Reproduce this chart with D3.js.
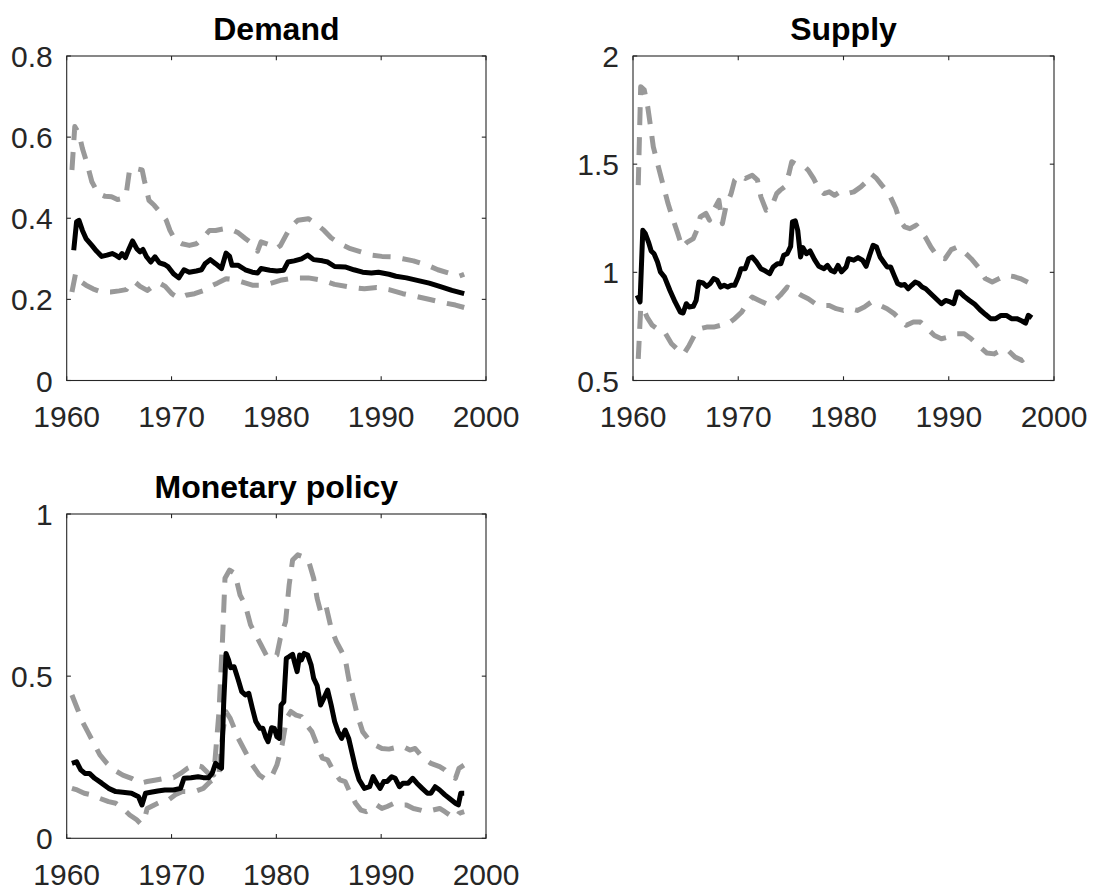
<!DOCTYPE html>
<html>
<head>
<meta charset="utf-8">
<script src="https://cdn.jsdelivr.net/npm/d3@7/dist/d3.min.js"></script>
<style>
  html, body { margin: 0; padding: 0; background: #fff; }
  svg { display: block; }
  text { font-family: "Liberation Sans", Arial, Helvetica, sans-serif; }
</style>
</head>
<body>
<svg id="chart" width="1098" height="891"></svg>
<script>
// ---------------- DATA ----------------
const panelTitles = ["Demand", "Supply", "Monetary policy"];
const xTicks = [1960, 1970, 1980, 1990, 2000];
const demandYTicks = [0, 0.2, 0.4, 0.6, 0.8];
const supplyYTicks = [0.5, 1, 1.5, 2];
const monetaryYTicks = [0, 0.5, 1];

// [year, value]
const demandMedian = [[1960.67,0.321],[1960.94,0.391],[1961.17,0.395],[1961.5,0.370],[1961.84,0.350],[1962.4,0.333],[1962.84,0.319],[1963.34,0.306],[1963.84,0.309],[1964.34,0.313],[1964.68,0.309],[1965.0,0.303],[1965.28,0.313],[1965.6,0.303],[1965.95,0.325],[1966.28,0.344],[1966.68,0.325],[1967.0,0.317],[1967.28,0.323],[1967.62,0.305],[1968.02,0.292],[1968.42,0.305],[1968.85,0.290],[1969.35,0.286],[1969.69,0.280],[1970.19,0.263],[1970.69,0.253],[1971.19,0.273],[1971.69,0.267],[1972.36,0.270],[1972.86,0.273],[1973.2,0.288],[1973.7,0.298],[1974.2,0.288],[1974.77,0.276],[1975.2,0.314],[1975.54,0.306],[1975.77,0.284],[1976.37,0.284],[1977.04,0.273],[1977.71,0.267],[1978.21,0.265],[1978.54,0.276],[1979.38,0.272],[1980.05,0.270],[1980.7,0.272],[1981.1,0.292],[1981.7,0.295],[1982.4,0.300],[1983.0,0.309],[1983.55,0.298],[1984.4,0.295],[1984.9,0.292],[1985.56,0.281],[1986.56,0.280],[1987.4,0.273],[1988.23,0.267],[1989.07,0.265],[1989.74,0.267],[1990.74,0.262],[1991.41,0.257],[1992.41,0.253],[1993.75,0.245],[1994.58,0.240],[1995.58,0.232],[1996.75,0.222],[1997.92,0.214]];
const demandUpper = [[1960.5,0.519],[1960.77,0.626],[1961.17,0.609],[1961.5,0.572],[1961.94,0.535],[1962.4,0.490],[1963.0,0.461],[1963.67,0.454],[1964.28,0.453],[1964.84,0.446],[1965.35,0.449],[1965.68,0.460],[1966.0,0.520],[1966.5,0.523],[1967.2,0.519],[1967.4,0.494],[1967.85,0.444],[1968.35,0.432],[1969.0,0.412],[1969.5,0.395],[1969.85,0.370],[1970.35,0.346],[1971.0,0.337],[1971.7,0.333],[1972.36,0.337],[1973.0,0.352],[1973.63,0.370],[1974.2,0.370],[1975.03,0.374],[1975.7,0.372],[1976.37,0.364],[1977.04,0.350],[1977.71,0.337],[1978.21,0.319],[1978.54,0.342],[1979.3,0.335],[1980.0,0.325],[1980.4,0.333],[1981.0,0.362],[1981.38,0.379],[1982.05,0.395],[1983.05,0.399],[1983.7,0.388],[1984.55,0.370],[1985.22,0.352],[1986.06,0.337],[1987.06,0.325],[1988.07,0.317],[1989.07,0.309],[1990.07,0.306],[1991.07,0.305],[1992.07,0.300],[1993.08,0.295],[1994.41,0.284],[1995.41,0.273],[1996.42,0.265],[1997.42,0.257],[1997.92,0.262]];
const demandLower = [[1960.5,0.218],[1960.84,0.263],[1961.17,0.247],[1961.84,0.235],[1962.5,0.226],[1963.34,0.218],[1964.18,0.218],[1965.0,0.221],[1965.68,0.224],[1966.08,0.240],[1966.5,0.243],[1967.0,0.232],[1967.68,0.222],[1968.35,0.235],[1968.85,0.240],[1969.4,0.232],[1970.02,0.214],[1970.69,0.203],[1971.36,0.210],[1972.2,0.214],[1973.0,0.221],[1973.7,0.232],[1974.37,0.240],[1975.2,0.251],[1975.87,0.249],[1976.7,0.243],[1977.71,0.235],[1978.38,0.235],[1979.38,0.239],[1980.38,0.247],[1981.72,0.253],[1983.05,0.253],[1984.4,0.247],[1985.56,0.237],[1987.06,0.230],[1988.4,0.226],[1989.57,0.229],[1990.74,0.224],[1992.07,0.214],[1993.41,0.207],[1994.75,0.199],[1996.08,0.191],[1997.09,0.186],[1997.92,0.180]];

const supplyMedian = [[1960.4,0.894],[1960.67,0.863],[1960.93,1.194],[1961.17,1.179],[1961.5,1.136],[1961.73,1.099],[1962.0,1.086],[1962.33,1.048],[1962.6,1.002],[1963.0,0.978],[1963.5,0.917],[1964.0,0.863],[1964.5,0.816],[1964.76,0.812],[1965.06,0.855],[1965.33,0.840],[1965.73,0.843],[1966.0,0.870],[1966.26,0.955],[1966.66,0.951],[1967.0,0.935],[1967.33,0.948],[1967.66,0.971],[1968.0,0.963],[1968.33,0.932],[1968.66,0.940],[1969.0,0.932],[1969.33,0.940],[1969.66,0.940],[1970.0,0.978],[1970.26,1.017],[1970.66,1.017],[1971.0,1.063],[1971.33,1.071],[1971.72,1.048],[1972.15,1.017],[1972.59,1.006],[1972.99,0.994],[1973.32,1.025],[1973.72,1.040],[1974.05,1.040],[1974.32,1.079],[1974.65,1.086],[1974.98,1.120],[1975.15,1.233],[1975.42,1.238],[1975.65,1.194],[1975.92,1.071],[1976.15,1.114],[1976.48,1.086],[1976.82,1.099],[1977.25,1.059],[1977.65,1.028],[1978.15,1.017],[1978.48,1.032],[1978.81,1.009],[1979.15,1.002],[1979.48,1.032],[1979.81,1.002],[1980.25,1.025],[1980.48,1.063],[1980.98,1.056],[1981.38,1.068],[1981.81,1.056],[1982.15,1.028],[1982.48,1.079],[1982.81,1.125],[1983.14,1.117],[1983.48,1.071],[1983.81,1.048],[1984.14,1.025],[1984.48,1.025],[1984.81,0.986],[1985.14,0.948],[1985.47,0.940],[1985.81,0.944],[1986.14,0.924],[1986.47,0.940],[1986.81,0.955],[1987.14,0.948],[1987.47,0.932],[1987.81,0.924],[1988.3,0.901],[1988.8,0.878],[1989.3,0.855],[1989.7,0.870],[1990.14,0.863],[1990.47,0.855],[1990.8,0.909],[1991.04,0.909],[1991.47,0.889],[1991.97,0.870],[1992.47,0.852],[1992.97,0.827],[1993.47,0.806],[1993.97,0.786],[1994.47,0.786],[1994.97,0.801],[1995.47,0.801],[1995.96,0.786],[1996.46,0.786],[1996.96,0.775],[1997.3,0.765],[1997.56,0.801],[1997.9,0.790]];
const supplyUpper = [[1960.5,1.403],[1960.73,1.858],[1961.07,1.843],[1961.4,1.765],[1961.67,1.673],[1961.93,1.580],[1962.33,1.503],[1962.83,1.410],[1963.33,1.318],[1963.83,1.241],[1964.26,1.179],[1964.66,1.117],[1965.16,1.140],[1965.73,1.156],[1966.06,1.194],[1966.39,1.256],[1966.93,1.272],[1967.26,1.241],[1967.66,1.287],[1968.16,1.333],[1968.49,1.225],[1968.82,1.302],[1969.32,1.364],[1969.66,1.426],[1970.16,1.449],[1970.66,1.434],[1971.33,1.449],[1971.83,1.426],[1972.15,1.349],[1972.65,1.287],[1973.15,1.302],[1973.65,1.364],[1973.99,1.380],[1974.39,1.395],[1974.82,1.457],[1975.08,1.511],[1975.65,1.495],[1976.32,1.488],[1976.65,1.472],[1977.15,1.434],[1977.65,1.387],[1978.15,1.364],[1978.65,1.372],[1979.15,1.356],[1979.65,1.372],[1980.31,1.364],[1980.98,1.372],[1981.65,1.395],[1982.15,1.418],[1982.65,1.454],[1983.14,1.434],[1983.64,1.403],[1984.31,1.364],[1984.97,1.295],[1985.31,1.241],[1985.81,1.210],[1986.31,1.202],[1986.91,1.218],[1987.31,1.194],[1987.81,1.160],[1988.3,1.117],[1988.97,1.071],[1989.64,1.063],[1990.24,1.105],[1990.8,1.117],[1991.47,1.094],[1992.13,1.063],[1992.8,1.025],[1993.47,0.971],[1994.13,0.955],[1994.8,0.971],[1995.47,0.986],[1996.13,0.981],[1996.8,0.971],[1997.63,0.951],[1997.9,0.948]];
const supplyLower = [[1960.5,0.600],[1960.73,0.832],[1960.93,0.840],[1961.33,0.793],[1961.83,0.755],[1962.5,0.731],[1963.0,0.724],[1963.66,0.670],[1964.33,0.639],[1964.83,0.623],[1965.33,0.662],[1965.83,0.708],[1966.33,0.739],[1967.0,0.747],[1967.66,0.747],[1968.33,0.755],[1969.0,0.762],[1969.66,0.786],[1970.32,0.816],[1970.82,0.855],[1971.32,0.886],[1971.99,0.870],[1972.65,0.855],[1973.32,0.863],[1973.99,0.894],[1974.65,0.932],[1975.32,0.917],[1975.98,0.894],[1976.65,0.878],[1977.32,0.855],[1977.98,0.847],[1978.65,0.847],[1979.31,0.832],[1979.98,0.824],[1980.65,0.832],[1981.31,0.824],[1981.98,0.840],[1982.65,0.863],[1983.48,0.847],[1984.14,0.832],[1984.81,0.809],[1985.47,0.778],[1985.97,0.755],[1986.64,0.770],[1987.31,0.770],[1987.97,0.739],[1988.64,0.708],[1989.3,0.693],[1989.97,0.701],[1990.64,0.716],[1991.47,0.716],[1992.13,0.693],[1992.8,0.662],[1993.63,0.627],[1994.3,0.623],[1994.97,0.639],[1995.64,0.639],[1996.3,0.608],[1996.96,0.593],[1997.46,0.611],[1997.9,0.623]];

const monetaryMedian = [[1960.5,0.231],[1960.94,0.236],[1961.34,0.211],[1961.74,0.200],[1962.17,0.200],[1962.67,0.185],[1963.34,0.170],[1964.0,0.154],[1964.68,0.144],[1965.35,0.142],[1966.18,0.139],[1966.85,0.128],[1967.18,0.103],[1967.52,0.139],[1968.02,0.142],[1968.69,0.146],[1969.36,0.149],[1970.19,0.149],[1970.86,0.154],[1971.19,0.185],[1971.86,0.187],[1972.53,0.190],[1973.03,0.187],[1973.53,0.187],[1973.87,0.200],[1974.2,0.231],[1974.53,0.221],[1974.77,0.216],[1974.97,0.411],[1975.2,0.570],[1975.44,0.550],[1975.64,0.526],[1975.97,0.529],[1976.37,0.488],[1976.7,0.452],[1977.04,0.442],[1977.37,0.447],[1977.71,0.401],[1978.04,0.360],[1978.44,0.339],[1978.71,0.339],[1978.98,0.313],[1979.21,0.298],[1979.55,0.341],[1979.81,0.339],[1980.05,0.313],[1980.28,0.308],[1980.45,0.411],[1980.71,0.421],[1980.95,0.555],[1981.22,0.560],[1981.55,0.567],[1981.72,0.545],[1981.98,0.514],[1982.22,0.565],[1982.39,0.550],[1982.65,0.570],[1982.99,0.565],[1983.32,0.534],[1983.56,0.493],[1983.89,0.471],[1984.22,0.411],[1984.56,0.434],[1984.89,0.457],[1985.23,0.411],[1985.56,0.360],[1985.89,0.329],[1986.23,0.308],[1986.56,0.334],[1986.9,0.308],[1987.23,0.262],[1987.56,0.216],[1987.9,0.180],[1988.4,0.154],[1988.9,0.159],[1989.23,0.190],[1989.57,0.170],[1989.9,0.154],[1990.24,0.175],[1990.57,0.175],[1991.0,0.190],[1991.34,0.185],[1991.74,0.159],[1992.07,0.170],[1992.57,0.170],[1993.01,0.185],[1993.41,0.170],[1993.91,0.154],[1994.41,0.139],[1994.75,0.139],[1995.15,0.159],[1995.58,0.149],[1996.08,0.134],[1996.58,0.121],[1997.09,0.108],[1997.36,0.103],[1997.59,0.139],[1997.92,0.139]];
const monetaryUpper = [[1960.5,0.442],[1961.0,0.401],[1961.5,0.360],[1962.0,0.329],[1962.5,0.298],[1963.17,0.257],[1963.84,0.231],[1964.51,0.211],[1965.35,0.195],[1966.18,0.185],[1967.02,0.170],[1967.68,0.175],[1968.52,0.180],[1969.36,0.185],[1970.19,0.187],[1970.86,0.200],[1971.53,0.216],[1972.2,0.226],[1972.86,0.221],[1973.53,0.200],[1974.03,0.195],[1974.53,0.391],[1974.87,0.617],[1975.1,0.802],[1975.54,0.827],[1976.04,0.817],[1976.54,0.750],[1977.04,0.719],[1977.54,0.658],[1978.04,0.627],[1978.54,0.596],[1979.04,0.565],[1979.55,0.555],[1980.05,0.565],[1980.38,0.617],[1980.88,0.668],[1981.22,0.781],[1981.55,0.858],[1982.05,0.874],[1982.55,0.868],[1983.05,0.858],[1983.56,0.802],[1983.89,0.740],[1984.22,0.699],[1984.72,0.719],[1985.23,0.647],[1985.73,0.606],[1986.23,0.576],[1986.56,0.555],[1986.9,0.493],[1987.23,0.447],[1987.73,0.380],[1988.23,0.329],[1988.73,0.308],[1989.4,0.288],[1990.07,0.277],[1990.74,0.275],[1991.41,0.280],[1992.07,0.283],[1992.74,0.272],[1993.24,0.277],[1993.75,0.257],[1994.25,0.242],[1994.75,0.231],[1995.58,0.221],[1996.08,0.211],[1996.58,0.195],[1997.09,0.185],[1997.42,0.216],[1997.92,0.226]];
const monetaryLower = [[1960.5,0.154],[1961.0,0.149],[1961.67,0.139],[1962.34,0.134],[1963.17,0.123],[1964.0,0.113],[1964.68,0.108],[1965.35,0.092],[1966.01,0.072],[1966.68,0.057],[1967.02,0.046],[1967.35,0.051],[1967.68,0.092],[1968.35,0.103],[1969.02,0.113],[1969.69,0.118],[1970.36,0.134],[1971.03,0.144],[1971.69,0.144],[1972.36,0.146],[1973.03,0.154],[1973.7,0.175],[1974.2,0.185],[1974.53,0.200],[1974.9,0.330],[1975.2,0.390],[1975.6,0.370],[1976.37,0.308],[1977.04,0.267],[1977.71,0.226],[1978.38,0.195],[1979.04,0.180],[1979.55,0.190],[1980.05,0.226],[1980.55,0.288],[1980.98,0.370],[1981.38,0.391],[1981.88,0.380],[1982.39,0.375],[1982.89,0.349],[1983.39,0.329],[1983.89,0.288],[1984.39,0.247],[1984.89,0.242],[1985.39,0.211],[1986.06,0.180],[1986.56,0.175],[1987.06,0.139],[1987.56,0.108],[1988.07,0.087],[1988.57,0.082],[1989.07,0.092],[1989.57,0.103],[1990.07,0.092],[1990.57,0.098],[1991.24,0.108],[1991.74,0.103],[1992.41,0.103],[1993.08,0.092],[1993.75,0.087],[1994.25,0.082],[1994.91,0.087],[1995.58,0.092],[1996.08,0.082],[1996.75,0.067],[1997.09,0.062],[1997.42,0.077],[1997.92,0.082]];

// ---------------- LAYOUT ----------------
const svg = d3.select("#chart");
const axisColor = "#262626";
const tickFont = 30;
const panels = [
  { title: panelTitles[0], left: 66.7, right: 486, top: 56, bottom: 380.5, yDomain: [0, 0.8], yTicks: demandYTicks,
    median: demandMedian, upper: demandUpper, lower: demandLower },
  { title: panelTitles[1], left: 633, right: 1054, top: 56, bottom: 380.5, yDomain: [0.5, 2], yTicks: supplyYTicks,
    median: supplyMedian, upper: supplyUpper, lower: supplyLower },
  { title: panelTitles[2], left: 66.7, right: 486, top: 514, bottom: 838.3, yDomain: [0, 1], yTicks: monetaryYTicks,
    median: monetaryMedian, upper: monetaryUpper, lower: monetaryLower }
];

panels.forEach((p) => {
  const x = d3.scaleLinear().domain([1960, 2000]).range([p.left, p.right]);
  const y = d3.scaleLinear().domain(p.yDomain).range([p.bottom, p.top]);
  const g = svg.append("g");
  const tickLen = 4.2;

  // Box
  g.append("rect")
    .attr("x", p.left).attr("y", p.top)
    .attr("width", p.right - p.left).attr("height", p.bottom - p.top)
    .attr("fill", "none").attr("stroke", axisColor).attr("stroke-width", 1.1);

  // Lines
  const line = d3.line().x(d => x(d[0])).y(d => y(d[1]));
  [p.upper, p.lower].forEach(s => {
    g.append("path").datum(s).attr("d", line)
      .attr("fill", "none").attr("stroke", "#999999").attr("stroke-width", 5)
      .attr("stroke-dasharray", "18,12").attr("stroke-linejoin", "round");
  });
  g.append("path").datum(p.median).attr("d", line)
    .attr("fill", "none").attr("stroke", "#000").attr("stroke-width", 5)
    .attr("stroke-linejoin", "round").attr("stroke-linecap", "butt");

  // Ticks (inward, all four sides)
  xTicks.forEach(t => {
    const xx = x(t);
    g.append("line").attr("x1", xx).attr("x2", xx).attr("y1", p.bottom).attr("y2", p.bottom - tickLen)
      .attr("stroke", axisColor).attr("stroke-width", 1.1);
    g.append("line").attr("x1", xx).attr("x2", xx).attr("y1", p.top).attr("y2", p.top + tickLen)
      .attr("stroke", axisColor).attr("stroke-width", 1.1);
    g.append("text").attr("x", xx).attr("y", p.bottom + 46.5)
      .attr("text-anchor", "middle").attr("font-size", tickFont).attr("fill", axisColor)
      .text(String(t));
  });
  p.yTicks.forEach(t => {
    const yy = y(t);
    g.append("line").attr("x1", p.left).attr("x2", p.left + tickLen).attr("y1", yy).attr("y2", yy)
      .attr("stroke", axisColor).attr("stroke-width", 1.1);
    g.append("line").attr("x1", p.right).attr("x2", p.right - tickLen).attr("y1", yy).attr("y2", yy)
      .attr("stroke", axisColor).attr("stroke-width", 1.1);
    g.append("text").attr("x", p.left - 14).attr("y", yy + 11)
      .attr("text-anchor", "end").attr("font-size", tickFont).attr("fill", axisColor)
      .text(String(t));
  });

  // Title
  g.append("text").attr("x", (p.left + p.right) / 2).attr("y", p.top - 16)
    .attr("text-anchor", "middle").attr("font-size", 32).attr("font-weight", "bold").attr("fill", "#000")
    .text(p.title);
});
</script>
</body>
</html>
